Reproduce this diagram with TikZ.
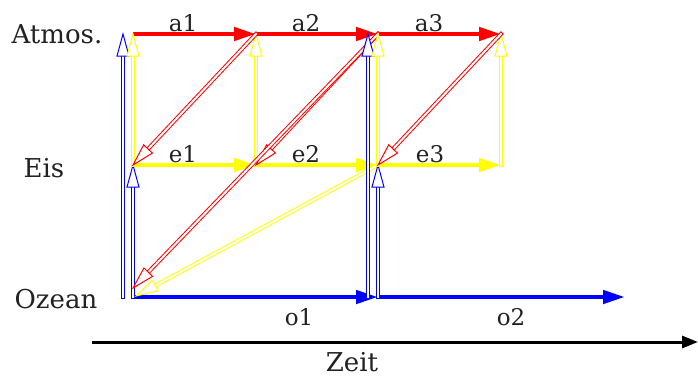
\documentclass[tikz,border=0pt]{standalone}
\usepackage{fontspec}
\setmainfont{DejaVu Serif}
\usetikzlibrary{positioning, calc, arrows.meta}
\definecolor{atmo}{HTML}{FF0000}
\definecolor{ice}{HTML}{FFFF00}
\definecolor{sea}{HTML}{0000FF}
\definecolor{ink}{HTML}{222222}
\newcommand{\LevelF}{\fontsize{26}{32}\selectfont}
\newcommand{\StepF}{\fontsize{23}{28}\selectfont}
% hollow double-line arrow: colour, from, to
\newcommand{\Flux}[3]{%
  \draw[#1, line width=1pt, line cap=rect, double=white, double distance=2pt,
        shorten >=22pt] (#2) -- (#3);
  \draw[#1, line width=1pt, fill=white, line join=miter] (#3)
    -- ($(#3)!22pt!(#2)!6pt!90:(#2)$)
    -- ($(#3)!22pt!(#2)!6pt!-90:(#2)$) -- cycle;}

\begin{document}
\begin{tikzpicture}[x=1pt, y=-1pt,
    flow/.style={line width=4.5pt, -{Triangle[length=22pt, width=13pt]}},
    lvl/.style={anchor=base, font=\LevelF, text=ink},
    stp/.style={anchor=base, font=\StepF, text=ink}]
  \useasboundingbox (0,0) rectangle (698,376);
  \foreach \i/\x in {0/133, 1/256, 2/378, 3/501} {
    \coordinate (a\i) at (\x,34);
    \coordinate (e\i) at (\x,165);
    \coordinate (o\i) at (\x,297);
  }
  \coordinate (oend) at (625,297);
  \coordinate (a0w) at (123,34);  \coordinate (o0w) at (123,297);
  \coordinate (a2w) at (368,34);  \coordinate (o2w) at (368,297);
  \coordinate (o0r) at (133,288); \coordinate (o0y) at (136,296);
  \coordinate (t0) at (92,342);   \coordinate (t1) at (698,342);

  \node[lvl] (atmos) at (57,43) {Atmos.};
  \node[lvl] (eis) at (44,177) {Eis};
  \node[lvl] (ozean) at (56,308) {Ozean};
  \node[lvl] (zeit) at (352,371) {Zeit};

  % transitions in time
  \draw[flow, atmo] (a0) -- (a1);
  \draw[flow, atmo] (a1) -- (a2);
  \draw[flow, atmo] (a2) -- (a3);
  \draw[flow, ice] (e0) -- (e1);
  \draw[flow, ice] (e1) -- (e2);
  \draw[flow, ice] (e2) -- (e3);
  \draw[flow, sea] (o0) -- (o2);
  \draw[flow, sea] (o2) -- (oend);
  \draw[line width=3pt, -{Triangle[length=16pt, width=12pt]}] (t0) -- (t1);

  \node[stp] (la1) at (183,31) {a1};
  \node[stp] (la2) at (306,31) {a2};
  \node[stp] (la3) at (429,31) {a3};
  \node[stp] (le1) at (183,162) {e1};
  \node[stp] (le2) at (306,162) {e2};
  \node[stp] (le3) at (430,162) {e3};
  \node[stp] (lo1) at (299,325) {o1};
  \node[stp] (lo2) at (511,325) {o2};

  % coupling
  \Flux{sea}{o0w}{a0w}
  \Flux{sea}{o0}{e0}
  \Flux{ice}{e0}{a0}
  \Flux{ice}{e1}{a1}
  \Flux{atmo}{a1}{e0}
  \Flux{atmo}{a2}{e1}
  \Flux{atmo}{a2}{o0r}
  \Flux{ice}{e2}{o0y}
  \Flux{sea}{o2w}{a2w}
  \Flux{sea}{o2}{e2}
  \Flux{ice}{e2}{a2}
  \Flux{ice}{e3}{a3}
  \Flux{atmo}{a3}{e2}
\end{tikzpicture}
\end{document}
